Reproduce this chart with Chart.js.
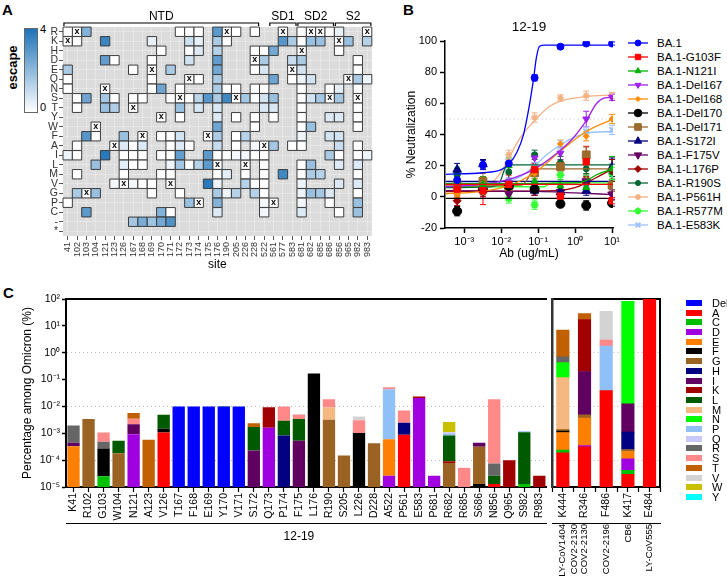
<!DOCTYPE html>
<html>
<head>
<meta charset="utf-8">
<title>12-19 escape</title>
<script src="https://cdn.jsdelivr.net/npm/chart.js@4.4.1/dist/chart.umd.min.js"></script>
<style>
  body{margin:0;background:#fff;font-family:"Liberation Sans",Arial,Helvetica,sans-serif;color:#000}
  #page{position:relative;width:727px;height:579px;overflow:hidden}
  #page canvas,#page .t{position:absolute}
  .lbl{font-weight:bold;font-size:15px}
  .lgB{position:absolute;left:628px;height:14px;font-size:11.5px;line-height:14px;white-space:nowrap}
  .lgB canvas{position:absolute;left:0;top:0}
  .lgB span{position:absolute;left:29px;top:0}
  .lgC{position:absolute;left:686px;height:10px;font-size:11px;line-height:10px;white-space:nowrap}
  .lgC i{position:absolute;left:0;top:2px;width:16px;height:6px}
  .lgC span{position:absolute;left:26px;top:0}
</style>
</head>
<body>
<div id="page">
  <div class="t lbl" style="left:2px;top:1px">A</div>
  <div class="t lbl" style="left:403px;top:1px">B</div>
  <div class="t lbl" style="left:3px;top:284px">C</div>
  <div class="t" style="left:24px;top:28px;width:14px;height:85px;border:1px solid #666;box-sizing:border-box;background:linear-gradient(#1e73b9,#fff)"></div>
  <div class="t" style="left:40px;top:23px;font-size:11px">4</div>
  <div class="t" style="left:40px;top:101px;font-size:11px">0</div>
  <div class="t" style="left:-10px;top:60px;width:44px;text-align:center;transform:rotate(-90deg);font-weight:bold;font-size:13px">escape</div>
  <canvas id="cA" width="340" height="275" style="left:40px;top:0"></canvas>
  <canvas id="cB" width="226" height="275" style="left:400px;top:0"></canvas>
  <div id="legB"></div>
  <canvas id="cC1" width="553" height="299" style="left:0;top:280px"></canvas>
  <canvas id="cC2" width="126" height="299" style="left:548px;top:280px"></canvas>
  <div id="legC"></div>
</div>
<script>
// ---------- panel A : escape heatmap ----------
const sites = [41,102,103,104,121,123,126,167,168,169,170,171,172,173,174,175,176,190,205,226,228,522,561,577,583,681,682,685,686,856,965,982,983];
const residues = ['R','K','H','D','E','Q','N','S','T','Y','W','F','A','I','L','M','V','G','P','C','-','*'];
// residue of the BA.1 spike at each site (the "x" cells)
const wildtype = ['K','R','G','W','N','A','V','T','F','E','Y','V','S','Q','P','F','L','R','S','L','D','A','P','R','E','H','R','R','S','K','Q','S','R'];
// "site:escape" per residue row, same order as residues
const escapeRows = [
  '41:0 103:2.2 172:0 173:0 174:0 176:2.9 205:0 228:0 681:0 686:0 856:0.4',
  '102:0 121:3.5 169:0.4 173:0.9 174:0.4 176:1.5 190:0 577:3 583:1.5 681:0 682:1.8 685:1.8 965:1.8 983:1.3',
  '170:0 173:0 174:0.6 176:1.3 228:0 522:0 561:2.5 856:0',
  '121:2.8 123:0 169:0 173:0.8 176:2.8 522:1.5 583:1 681:1.5 982:0',
  '41:1.5 167:0 171:1.5 176:2.5 228:0 522:0.7 681:0.8 982:0',
  '41:0 169:0 174:0 176:1.5 561:2.6 583:0 681:0.3 682:0.8 982:1.5 983:0.3',
  '41:0 169:0 170:2.6 172:0 176:1.5 190:0 205:0 228:0 522:0 681:0 686:0 856:0.5 982:0',
  '102:0 103:2.6 121:1.6 123:0 167:0 168:0 171:0 173:0 174:1.2 175:3 176:1.5 190:3.4 226:1.6 228:0 522:0.8 561:1.8 681:0 682:0.8 685:1.6 856:1.6',
  '102:0 121:1.8 123:1.4 172:1.8 174:0.7 176:0.7 522:0.7 561:0.7 681:0 982:0',
  '172:0 176:0.6 205:0 228:0 561:0 681:0 686:0.6 856:0.6 982:0',
  '176:2.6 228:0 681:0 682:1.8 982:0',
  '103:3 104:0 126:1.8 170:0 171:0 172:0.8 176:1.5 205:0 226:1.3 681:0.3 686:0.8 856:0.8',
  '102:0 126:0.6 167:0 168:0.6 171:0 172:0.6 173:0 176:1 205:0 228:0.2 561:1.6 583:0 681:0 856:1 982:0',
  '41:0.3 102:0 121:3.8 126:0 167:0 168:0 170:0 171:0 172:2.8 175:2.9 176:0 190:0 205:0.2 226:0.2 228:0 522:0 686:1.5 856:0 982:0 983:0.3',
  '104:1.8 126:0.5 167:0 168:0 171:0.3 172:1.6 173:0 174:1.3 175:2.9 522:0 681:0 682:1.8 856:0.6 982:0.6',
  '102:0 126:0 170:0 171:0 176:0 190:0.5 226:0 522:0 577:3.4 681:0 682:1.5 685:1.3 982:0',
  '123:0.2 167:0.2 168:0 169:0 175:3.8 176:0.3 226:1.3 228:0 522:0 681:0.3 856:0.6 982:0.6',
  '102:1.5 104:1.8 169:0 172:0 176:1.5 190:0.3 205:1.3 228:1.3 522:0 681:0.3 682:1.8 685:1.6 686:0.6 982:0',
  '41:0 173:1.8 176:2.2 522:0.2 681:0.2 686:0 982:1.8',
  '103:2.9 170:2.2 171:0 176:0.6 522:0.2 681:0.6 856:0 982:1.8',
  '167:1.6 168:2.4 169:1.7 170:2.5 171:3.1',
  ''
];
const domainNames = ['NTD','SD1','SD2','S2'];
const domainFirst = [41,561,681,856];
const domainLast = [228,583,686,983];

// ---------- panel B : neutralization ----------
const conc = [0.00064,0.0032,0.016,0.08,0.4,2,10];
const concTicks = [0.001,0.01,0.1,1,10];
const variants = ['BA.1','BA.1-G103F','BA.1-N121I','BA.1-Del167','BA.1-Del168','BA.1-Del170','BA.1-Del171','BA.1-S172I','BA.1-F175V','BA.1-L176P','BA.1-R190S','BA.1-P561H','BA.1-R577M','BA.1-E583K'];
const neutPoints = [
  [10.8,20.5,21.5,76.5,96.5,98.5,98.5],
  [5,4,8,17.5,0.5,22.5,-2.5],
  [6,8,20,10,7,6,18],
  [7,5,9,25,28,50,64],
  [1.5,3,8,15,34,39,50],
  [-9.2,4.5,7,5,-4.5,-5.5,-4],
  [7.5,10,6.5,15.5,19.5,27,7.5],
  [17.5,21,7,4,3,4,19],
  [5,3.5,2,4,3,10,1.5],
  [-2.5,3,6,4,4,9,17],
  [14,7,16,27,22,18,16],
  [3,3,27,51,63.5,65,65],
  [15,6,-1,-5,14,10,15],
  [6,7,9,19,33,42,43]
];
// error bars (± %)
const neutErr = [
  [4,3,2.5,2,1,1,1],
  [4,9,6,4,4,10,2],
  [4,5,5,4,4,3,8],
  [3,3,3,3,4,5,2],
  [2,2,3,3,2.5,3,3],
  [3,3,3,2,2,3,2],
  [4,5,3,4,3,5,4],
  [4,3,3,3,3,3,6],
  [3,3,3,3,3,4,3],
  [3,3,4,3,3,4,7],
  [4,4,5,3,4,3,5],
  [2,2,3,3,2,3,2],
  [4,3,3,3,5,4,4],
  [3,3,3,3,3,3,3]
];
// fitted curves, [concentration, % neutralization]
const fitCurves = [
  [[3.16e-4,14.5],[0.003,15.5],[0.01,17.5],[0.016,21],[0.027,29],[0.04,40],[0.055,56],[0.075,76],[0.09,90],[0.11,96.8],[0.15,97.5],[10.6,97.5]],
  [[3.16e-4,8],[10.6,8]],
  [[3.16e-4,8.5],[1,9],[2,10.5],[4,14.5],[10.6,18]],
  [[3.16e-4,6.5],[0.003,8],[0.015,11],[0.08,18],[0.4,30],[0.9,38],[2,49],[3.8,60],[6,63.5],[10.6,64]],
  [[3.16e-4,2],[0.003,3.5],[0.015,7],[0.08,15.5],[0.4,29.5],[2,42],[10.6,50]],
  [[3.16e-4,-1],[10.6,-1]],
  [[3.16e-4,7],[0.035,7.5],[0.05,11],[0.07,17],[0.09,18],[10.6,18]],
  [[3.16e-4,10],[10.6,10]],
  [[3.16e-4,4],[0.1,3.5],[1,2.5],[10.6,1.5]],
  [[3.16e-4,3.5],[0.3,4],[1,6],[2,9],[5,14],[10.6,18]],
  [[3.16e-4,6],[0.005,6.5],[0.009,9],[0.012,17],[0.015,20.5],[10.6,20.5]],
  [[3.16e-4,3],[0.002,4],[0.005,8],[0.01,16],[0.016,25],[0.033,38],[0.08,49],[0.2,58],[0.4,61.5],[2,64.5],[10.6,65.5]],
  [[3.16e-4,6.5],[0.15,6.5],[0.2,8.5],[0.25,9],[10.6,9]],
  [[3.16e-4,9],[0.01,9.5],[0.03,12.5],[0.08,20],[0.17,27],[0.4,33.5],[1,38.5],[2,41],[10.6,42]]
];
const bColors = ['#0000ff','#ff0000','#00b000','#a020f0','#ff8c00','#000000','#9c6a2c','#000080','#660066','#a00000','#006633','#f4b183','#33ff33','#99c2ff'];
const bStyles = ['circle','rect','triangle','triangle','rectRot','circle','rect','triangle','triangle','rectRot','circle','star','star','crossRot'];
const bRadius = [3.5,4.5,4,4,3,4.5,5.5,5,5,4,3,3.5,4,4];
const bRot = [0,0,0,180,0,0,0,0,180,0,0,0,0,0];
const bBorder = [1,1,1,1,1,1,1,1,1,1,1,1.5,2,2];

// ---------- panel C : mutation frequency ----------
const aaList = ['Del','A','C','D','E','F','G','H','I','K','L','M','N','P','Q','R','S','T','V','W','Y'];
const aaColors = ['#0000ff','#ff0000','#00c000','#a000e0','#ff8000','#000000','#9a6324','#000080','#600060','#a00000','#005a00','#f4b880','#00ff00','#90c0f8','#c8c8ff','#666666','#ff8888','#c06000','#d3d3d3','#c8c000','#00ffff'];
const sitesLeft = ['K41','R102','G103','W104','N121','A123','V126','T167','F168','E169','Y170','V171','S172','Q173','P174','F175','L176','R190','S205','L226','D228','A522','P561','E583','P681','R682','R685','S686','N856','Q965','S982','R983'];
const compLeft = [
  'E:3.3e-4 I:1.1e-4 R:1.5e-3', 'G:3.4e-3', 'C:2.5e-5 F:2.45e-4 R:2.1e-4 S:5.8e-4', 'G:1.8e-4 L:3.5e-4',
  'D:9.2e-4 I:1.23e-3 S:1.35e-3 T:2.16e-3', 'T:5.7e-4', 'A:1.06e-3 F:4.3e-4 L:3.4e-3',
  'Del:1e-2', 'Del:1e-2', 'Del:1e-2', 'Del:1e-2 C:4e-4', 'Del:1e-2',
  'I:2.3e-4 L:1.5e-3 T:6.2e-4', 'D:1.6e-3 K:7.8e-3', 'H:8.2e-4 L:2.1e-3 S:7e-3', 'I:5.3e-4 L:2.9e-3 S:1.5e-3 V:3e-4',
  'F:0.17', 'G:3.2e-3 M:6e-3 S:9.5e-3', 'G:1.5e-4', 'F:1.03e-3 S:2e-3 V:1.2e-3', 'G:4.3e-4',
  'D:2.6e-5 E:5.7e-4 P:4.3e-2 S:8e-3', 'A:8.9e-4 H:1.6e-3 S:4.6e-3', 'D:2.04e-2 K:3.1e-3', 'D:2.6e-5',
  'G:7.9e-5 K:1.2e-5 L:7.3e-4 P:1.2e-4 Q:1.5e-4 W:1.54e-3', 'S:5.2e-5', 'F:1.3e-5 G:3e-4 I:1.3e-4',
  'A:1.3e-5 L:1.3e-5 R:4.9e-5 S:1.86e-2', 'K:1e-4', 'C:1.3e-5 L:1.08e-3 P:1.1e-4', 'K:2.6e-5'
];
const sitesRight = ['K444','R346','F486','K417','E484'];
const antibodiesRight = [['LY-CoV1404','COV2-2130'],'COV2-2130','COV2-2196','CB6','LY-CoV555'];
const compRight = [
  'A:1.87e-4 C:4.9e-5 E:8.3e-4 F:1.5e-4 G:1.5e-4 M:0.117 N:0.307 R:0.284 T:6.2',
  'A:3.1e-4 D:4e-5 E:3.35e-3 G:1.2e-3 I:0.195 K:17 T:11.4',
  'A:3.9e-2 P:1.73 S:1.17 V:32',
  'A:2.95e-5 C:1.25e-5 D:7.1e-5 E:9.7e-5 G:4e-5 H:8.5e-4 I:1.15e-2 N:81.7',
  'A:97'
];
const decadesC = [1e-5,1e-4,1e-3,1e-2,1e-1,1,10,100];
const dottedDecades = [1e-4,1e-2,1];

// ---------- helpers ----------
Chart.defaults.font.family = '"Liberation Sans", Arial, Helvetica, sans-serif';
Chart.defaults.color = '#000';
Chart.defaults.animation = false;
Chart.defaults.responsive = false;
Chart.defaults.events = [];
Chart.defaults.plugins.legend.display = false;
Chart.defaults.plugins.tooltip.enabled = false;

const SUP = {'-':'⁻','0':'⁰','1':'¹','2':'²','3':'³','4':'⁴','5':'⁵'};
const pow10 = v => '10' + String(Math.round(Math.log10(v))).split('').map(c => SUP[c]).join('');

function escColor(v){
  const t = Math.max(0, Math.min(1, v / 4));
  const r = Math.round(255 + (30 - 255) * t), g = Math.round(255 + (115 - 255) * t), b = Math.round(255 + (185 - 255) * t);
  return `rgb(${r},${g},${b})`;
}

// ---------- A ----------
const cells = [];
escapeRows.forEach((row, ri) => {
  row.split(' ').filter(Boolean).forEach(tok => {
    const [s, v] = tok.split(':');
    cells.push({x: sites.indexOf(+s), y: ri, v: +v});
  });
});
const wtCells = wildtype.map((aa, i) => ({x: i, y: residues.indexOf(aa)}));
const cellR = c => Math.abs(c.chart.scales.x.getPixelForValue(1) - c.chart.scales.x.getPixelForValue(0)) / Math.SQRT2;

const greyBg = {id:'greyBg', beforeDraw(ch){
  const a = ch.chartArea, c = ch.ctx;
  c.save(); c.fillStyle = '#dcdcdc'; c.fillRect(a.left, a.top, a.right - a.left, a.bottom - a.top); c.restore();
}};
const wtMark = {id:'wtMark', afterDatasetsDraw(ch){
  const c = ch.ctx;
  c.save(); c.font = 'bold 9px "Liberation Sans", Arial'; c.textAlign = 'center'; c.textBaseline = 'middle'; c.fillStyle = '#000';
  ch.getDatasetMeta(1).data.forEach(p => c.fillText('x', p.x, p.y - 0.5));
  c.restore();
}};
const domains = {id:'domains', afterDraw(ch){
  const c = ch.ctx, s = ch.scales.x, top = ch.chartArea.top;
  c.save(); c.strokeStyle = '#000'; c.lineWidth = 1.2; c.fillStyle = '#000';
  c.font = '12px "Liberation Sans", Arial'; c.textAlign = 'center'; c.textBaseline = 'bottom';
  domainNames.forEach((n, i) => {
    const x1 = s.getPixelForValue(sites.indexOf(domainFirst[i]) - 0.4);
    const x2 = s.getPixelForValue(sites.indexOf(domainLast[i]) + 0.4);
    const y = top - 4;
    c.beginPath(); c.moveTo(x1, y + 3); c.lineTo(x1, y); c.lineTo(x2, y); c.lineTo(x2, y + 3); c.stroke();
    c.fillText(n, (x1 + x2) / 2, y - 0.5);
  });
  c.restore();
}};

new Chart(document.getElementById('cA'), {
  type: 'scatter',
  data: {datasets: [
    {data: cells, pointStyle: 'rect', pointRadius: cellR, backgroundColor: c => escColor(c.raw ? c.raw.v : 0), borderColor: '#3c3c3c', borderWidth: 1, clip: 4},
    {data: wtCells, pointStyle: 'rect', pointRadius: cellR, backgroundColor: '#fff', borderColor: '#3c3c3c', borderWidth: 1, clip: 4}
  ]},
  options: {
    layout: {padding: {top: 27, right: 4}},
    scales: {
      x: {type: 'linear', min: -0.5, max: sites.length - 0.5,
          afterBuildTicks: s => { s.ticks = sites.map((_, i) => ({value: i})); },
          ticks: {callback: v => sites[v], autoSkip: false, minRotation: 90, maxRotation: 90, font: {size: 9}, color: '#333', padding: 2},
          grid: {color: 'rgba(255,255,255,0.3)', tickColor: '#555', tickLength: 4},
          border: {display: false},
          title: {display: true, text: 'site', font: {size: 12}, padding: {top: 0, bottom: 3}},
          afterFit: s => { s.height = 39; }},
      y: {type: 'linear', reverse: true, min: -0.5, max: residues.length - 0.5,
          afterBuildTicks: s => { s.ticks = residues.map((_, i) => ({value: i})); },
          ticks: {callback: v => residues[v], autoSkip: false, font: {size: 10.5}, color: '#333', padding: 1},
          grid: {color: 'rgba(255,255,255,0.3)', tickColor: '#555', tickLength: 4},
          border: {display: false},
          afterFit: s => { s.width = 23; }}
    }
  },
  plugins: [greyBg, wtMark, domains]
});

// ---------- B ----------
const xMin = 10 ** -3.5, xMax = 10.6;
const bSets = [];
variants.forEach((name, i) => {
  bSets.push({label: name, data: conc.map((x, j) => ({x, y: neutPoints[i][j], e: neutErr[i][j]})), showLine: false,
    pointStyle: bStyles[i], pointRadius: bRadius[i], pointRotation: bRot[i], pointBorderWidth: bBorder[i],
    backgroundColor: bColors[i], borderColor: bColors[i], isPoints: true});
  bSets.push({label: name + ' fit', data: fitCurves[i].map(([x, y]) => ({x, y})), showLine: true, pointRadius: 0,
    borderColor: bColors[i], borderWidth: 1.3, cubicInterpolationMode: 'monotone', fill: false});
});
bSets.push({label: 'IC50', data: [{x: xMin, y: 50}, {x: xMax, y: 50}], showLine: true, pointRadius: 0,
  borderColor: '#c8c8c8', borderWidth: 1, borderDash: [1, 3]});

const errorBars = {id:'errorBars', beforeDatasetsDraw(ch){
  const c = ch.ctx, ys = ch.scales.y;
  c.save(); c.lineWidth = 1;
  ch.data.datasets.forEach((ds, di) => {
    if (!ds.isPoints) return;
    c.strokeStyle = ds.borderColor;
    ch.getDatasetMeta(di).data.forEach((p, j) => {
      const d = ds.data[j];
      const y1 = ys.getPixelForValue(d.y - d.e), y2 = ys.getPixelForValue(d.y + d.e);
      c.beginPath();
      c.moveTo(p.x, y1); c.lineTo(p.x, y2);
      c.moveTo(p.x - 3, y1); c.lineTo(p.x + 3, y1);
      c.moveTo(p.x - 3, y2); c.lineTo(p.x + 3, y2);
      c.stroke();
    });
  });
  c.restore();
}};

new Chart(document.getElementById('cB'), {
  type: 'scatter',
  data: {datasets: bSets},
  options: {
    layout: {padding: {right: 13}},
    plugins: {title: {display: true, text: '12-19', font: {size: 13.5, weight: 'normal'}, padding: {top: 19, bottom: 6}, fullSize: false, color: '#000'}},
    scales: {
      x: {type: 'logarithmic', min: xMin, max: xMax,
          afterBuildTicks: s => { s.ticks = concTicks.map(v => ({value: v})); },
          ticks: {callback: v => pow10(v), font: {size: 11}, padding: 2, maxRotation: 0, autoSkip: false},
          grid: {drawOnChartArea: false, tickLength: 5, tickColor: '#000', tickWidth: 1.5},
          border: {color: '#000', width: 1.5},
          title: {display: true, text: 'Ab (ug/mL)', font: {size: 12}, padding: {top: 0, bottom: 14}},
          afterFit: s => { s.height = 47; }},
      y: {min: -20, max: 100,
          ticks: {stepSize: 20, font: {size: 11}, padding: 3},
          grid: {drawOnChartArea: false, tickLength: 5, tickColor: '#000', tickWidth: 1.5},
          border: {color: '#000', width: 1.5},
          title: {display: true, text: '% Neutralization', font: {size: 12}, padding: {top: 4, bottom: 2}},
          afterFit: s => { s.width = 45; }}
    }
  },
  plugins: [errorBars]
});

const legB = document.getElementById('legB');
variants.forEach((name, i) => {
  const row = document.createElement('div');
  row.className = 'lgB'; row.style.top = (36 + i * 14) + 'px';
  const cv = document.createElement('canvas'); cv.width = 22; cv.height = 14;
  const c = cv.getContext('2d');
  c.strokeStyle = bColors[i]; c.fillStyle = bColors[i]; c.lineWidth = 1.3;
  c.beginPath(); c.moveTo(0, 7); c.lineTo(20, 7); c.stroke();
  c.lineWidth = bBorder[i];
  Chart.helpers.drawPoint(c, {pointStyle: bStyles[i], radius: bRadius[i] * 0.85, rotation: bRot[i], borderWidth: bBorder[i]}, 10, 7);
  const sp = document.createElement('span'); sp.textContent = name;
  row.appendChild(cv); row.appendChild(sp); legB.appendChild(row);
});

// ---------- C ----------
function parseComp(list){
  return aaList.map(aa => list.map(s => {
    const t = s.split(' ').find(p => p.split(':')[0] === aa);
    return t ? +t.split(':')[1] : null;
  }));
}
const leftVals = parseComp(compLeft);
const rightVals = parseComp(compRight);
// right group: bars sit on every other slot of an 11-slot axis
const rightSlots = Array.from({length: 11}, (_, k) => k % 2 ? sitesRight[(k - 1) / 2] : '');
const rightGroup = Array.from({length: 11}, (_, k) => k % 2 ? antibodiesRight[(k - 1) / 2] : '');
const leftGroup = sitesLeft.map((_, i) => i === 15 ? '12-19' : '');

const dotGrid = c => c.tick && dottedDecades.includes(c.tick.value) ? '#bdbdbd' : 'rgba(0,0,0,0)';
const yLog = extra => Object.assign({
  type: 'logarithmic', min: 1e-5, max: 100, stacked: true,
  afterBuildTicks: s => { s.ticks = decadesC.map(v => ({value: v})); },
  grid: {color: dotGrid, tickColor: '#000', tickLength: 4, tickWidth: 1.5},
  border: {color: '#000', width: 2, dash: [1, 3]}
}, extra);

new Chart(document.getElementById('cC1'), {
  type: 'bar',
  data: {labels: sitesLeft, datasets: aaList.map((aa, k) => ({label: aa, data: leftVals[k], backgroundColor: aaColors[k], barPercentage: 0.82, categoryPercentage: 1}))},
  options: {
    layout: {padding: {top: 19, right: 1}},
    scales: {
      x: {stacked: true, offset: true, ticks: {autoSkip: false, minRotation: 90, maxRotation: 90, font: {size: 10.5}, padding: 1},
          grid: {offset: false, drawOnChartArea: false, tickLength: 5, tickColor: '#000', tickWidth: 1.2},
          border: {color: '#000', width: 2}, afterFit: s => { s.height = 36; }},
      x2: {type: 'category', labels: leftGroup, position: 'bottom', offset: true,
          ticks: {autoSkip: false, maxRotation: 0, font: {size: 12}, padding: 6},
          grid: {display: false, drawTicks: false}, border: {color: '#000', width: 1}, afterFit: s => { s.height = 56; }},
      xTop: {type: 'category', labels: sitesLeft, position: 'top', ticks: {display: false}, grid: {display: false, drawTicks: false},
          border: {color: '#000', width: 2}, afterFit: s => { s.height = 0; }},
      y: yLog({ticks: {callback: v => pow10(v), font: {size: 10.5}, padding: 2},
          title: {display: true, text: 'Percentage among Omicron (%)', font: {size: 12}, padding: {top: 20, bottom: 0}},
          afterFit: s => { s.width = 66; }})
    }
  }
});

new Chart(document.getElementById('cC2'), {
  type: 'bar',
  data: {labels: rightSlots, datasets: aaList.map((aa, k) => ({label: aa,
    data: rightSlots.map((_, s) => s % 2 ? rightVals[k][(s - 1) / 2] : null),
    backgroundColor: aaColors[k], barThickness: 12.5}))},
  options: {
    layout: {padding: {top: 19}},
    scales: {
      x: {stacked: true, offset: false, ticks: {autoSkip: false, minRotation: 90, maxRotation: 90, font: {size: 10.5}, padding: 1},
          grid: {offset: false, drawOnChartArea: false, tickLength: 5, tickColor: '#000', tickWidth: 1.2},
          border: {color: '#000', width: 2}, afterFit: s => { s.height = 36; }},
      x2: {type: 'category', labels: rightGroup, position: 'bottom', offset: false,
          ticks: {autoSkip: false, minRotation: 90, maxRotation: 90, font: {size: 9.5}, padding: 1},
          grid: {display: false, drawTicks: false}, border: {color: '#000', width: 1}, afterFit: s => { s.height = 56; }},
      xTop: {type: 'category', labels: rightSlots, position: 'top', ticks: {display: false}, grid: {display: false, drawTicks: false},
          border: {color: '#000', width: 2}, afterFit: s => { s.height = 0; }},
      y: yLog({ticks: {display: false}, grid: {color: dotGrid, drawTicks: false},
          border: {color: '#333', width: 2.5, dash: [1, 3]}, afterFit: s => { s.width = 4; }}),
      yR: {type: 'linear', position: 'right', min: 0, max: 1, ticks: {display: false}, grid: {display: false, drawTicks: false},
          border: {color: '#000', width: 2}, afterFit: s => { s.width = 3; }}
    }
  }
});

const legC = document.getElementById('legC');
aaList.forEach((aa, k) => {
  const row = document.createElement('div');
  row.className = 'lgC'; row.style.top = (297.9 + k * 9.7) + 'px';
  row.innerHTML = `<i style="background:${aaColors[k]}"></i><span>${aa}</span>`;
  legC.appendChild(row);
});
</script>
</body>
</html>
